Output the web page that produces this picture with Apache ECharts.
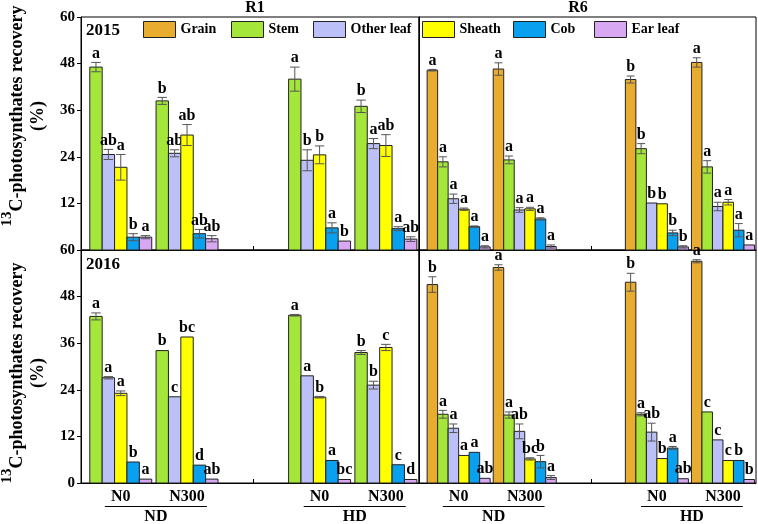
<!DOCTYPE html>
<html><head><meta charset="utf-8">
<script src="https://cdn.jsdelivr.net/npm/echarts@6/dist/echarts.min.js"></script>
<style>html,body{margin:0;padding:0;background:#fff}#c{width:758px;height:524px}</style>
</head><body><div id="c"></div>
<script>
// ---------- DATA ----------
const parts = ['Grain', 'Stem', 'Other leaf', 'Sheath', 'Cob', 'Ear leaf'];
const r1Parts = ['Stem', 'Other leaf', 'Sheath', 'Cob', 'Ear leaf'];
const r6Parts = ['Grain', 'Stem', 'Other leaf', 'Sheath', 'Cob', 'Ear leaf'];
const nLevels = ['N0', 'N300', 'N0', 'N300'];   // ND N0, ND N300, HD N0, HD N300
const densities = ['ND', 'HD'];
const yTicks = [0, 12, 24, 36, 48, 60];
const stages = ['R1', 'R6'];
const years = ['2015', '2016'];
const yTitleMain = 'C-photosynthates recovery';
const yTitleSup = '13';
const yTitleUnit = '(%)';

// R1 2015 (rows follow r1Parts)
const r1y15Mean = [[47.1, 38.4, 44.0, 37.0], [24.6, 24.9, 23.1, 27.4], [21.3, 29.6, 24.5, 26.9], [3.3, 4.2, 5.7, 5.5], [3.3, 2.9, 2.3, 2.8]];
const r1y15Err  = [[1.2, 0.9, 3.1, 1.6], [1.3, 0.9, 2.7, 1.3], [3.3, 2.7, 2.3, 2.8], [0.9, 1.1, 1.3, 0.5], [0.4, 0.8, 0.1, 0.6]];
const r1y15Let  = [['a', 'b', 'a', 'b'], ['ab', 'ab', 'b', 'a'], ['a', 'ab', 'b', 'ab'], ['b', 'ab', 'a', 'a'], ['a', 'ab', 'b', 'ab']];
// R6 2015 (rows follow r6Parts)
const r6y15Mean = [[46.3, 46.6, 43.9, 48.3], [22.7, 23.2, 26.1, 21.4], [13.2, 10.3, 12.1, 11.2], [10.5, 10.6, 11.9, 12.3], [6.0, 8.0, 4.4, 5.1], [0.8, 0.9, 0.8, 1.3]];
const r6y15Err  = [[0.2, 1.6, 0.9, 1.2], [1.3, 1.0, 1.3, 1.6], [1.2, 0.6, 0.1, 1.1], [0.3, 0.4, 0.1, 0.7], [0.2, 0.3, 0.7, 1.7], [0.3, 0.4, 0.3, 0.1]];
const r6y15Let  = [['a', 'a', 'b', 'a'], ['a', 'a', 'b', 'a'], ['a', 'a', 'b', 'a'], ['a', 'a', 'b', 'a'], ['a', 'a', 'b', 'a'], ['a', 'a', 'b', 'a']];
// R1 2016
const r1y16Mean = [[42.9, 34.1, 43.2, 33.6], [27.1, 22.2, 27.6, 25.2], [23.1, 37.6, 22.1, 34.9], [5.4, 4.6, 5.8, 4.7], [1.0, 1.0, 0.9, 0.9]];
const r1y16Err  = [[0.9, 0.1, 0.2, 0.5], [0.3, 0.1, 0.1, 1.0], [0.6, 0.1, 0.2, 0.8], [0.1, 0.1, 0.1, 0.1], [0.1, 0.1, 0.1, 0.1]];
const r1y16Let  = [['a', 'b', 'a', 'b'], ['a', 'c', 'a', 'b'], ['a', 'bc', 'b', 'c'], ['b', 'd', 'a', 'c'], ['a', 'ab', 'bc', 'd']];
// R6 2016
const r6y16Mean = [[51.1, 55.5, 51.7, 57.1], [17.7, 17.5, 17.7, 18.3], [14.1, 13.3, 13.1, 11.1], [7.1, 6.2, 6.3, 5.8], [7.9, 5.5, 9.0, 5.8], [1.2, 1.4, 1.1, 0.9]];
const r6y16Err  = [[2.0, 0.7, 2.3, 0.4], [1.0, 0.8, 0.4, 0.1], [1.1, 1.9, 2.3, 0.1], [0.1, 0.3, 0.1, 0.1], [0.1, 1.6, 0.4, 0.1], [0.1, 0.5, 0.1, 0.1]];
const r6y16Let  = [['b', 'a', 'b', 'a'], ['a', 'a', 'a', 'c'], ['a', 'ab', 'ab', 'c'], ['a', 'bc', 'b', 'c'], ['a', 'b', 'a', 'b'], ['ab', 'a', 'ab', 'b']];

// ---------- STYLE / LAYOUT ----------
const colors = {'Grain': '#E8AC2E', 'Stem': '#A5E63B', 'Other leaf': '#BCC0F8', 'Sheath': '#FFFF00', 'Cob': '#0AA0F0', 'Ear leaf': '#D8A9F2'};
const FONT = '"Liberation Serif", "Times New Roman", serif';
const groupX = [1, 2, 4, 5];
const X_MIN = 0.4, X_MAX = 5.5;
const bracketSpans = [[0.76, 2.3], [3.76, 5.3]];
const grids = [
  {left: 81, top: 17, width: 338, height: 233},
  {left: 419, top: 17, width: 337, height: 233},
  {left: 81, top: 250, width: 338, height: 233},
  {left: 419, top: 250, width: 337, height: 233}
];
const panels = [
  {grid: 0, parts: r1Parts, mean: r1y15Mean, err: r1y15Err, let: r1y15Let, barW: 0.187},
  {grid: 1, parts: r6Parts, mean: r6y15Mean, err: r6y15Err, let: r6y15Let, barW: 0.159},
  {grid: 2, parts: r1Parts, mean: r1y16Mean, err: r1y16Err, let: r1y16Let, barW: 0.187},
  {grid: 3, parts: r6Parts, mean: r6y16Mean, err: r6y16Err, let: r6y16Let, barW: 0.159}
];

const xAxes = grids.map((g, i) => ({
  type: 'value', gridIndex: i, min: X_MIN, max: X_MAX,
  splitLine: {show: false},
  axisLine: {show: true, onZero: false, lineStyle: {color: '#000', width: 1}},
  axisTick: {show: true, inside: true, length: 4, customValues: [3], lineStyle: {color: '#000'}},
  axisLabel: i >= 2 ? {
    show: true, customValues: groupX, margin: 6,
    formatter: v => nLevels[groupX.indexOf(Math.round(v))] || '',
    fontFamily: FONT, fontWeight: 'bold', fontSize: 16, color: '#000'
  } : {show: false}
}));

const yAxes = grids.map((g, i) => {
  const left = (i % 2 === 0);
  return {
    type: 'value', gridIndex: i, min: 0, max: 60, interval: 12,
    splitLine: {show: false},
    axisLine: {show: true, lineStyle: {color: '#000', width: 1}},
    axisTick: {show: left, length: 4, lineStyle: {color: '#000'}},
    axisLabel: {show: left, showMinLabel: i === 2, margin: 6, fontFamily: FONT, fontWeight: 'bold', fontSize: 15, color: '#000'}
  };
});

function makeBarRender(panel, partIdx) {
  const letters = panel.let[partIdx];
  const errs = panel.err[partIdx];
  const hw = panel.barW / 2;
  return function (params, api) {
    const x = api.value(0), y = api.value(1);
    const e = errs[params.dataIndex];
    const p0 = api.coord([x - hw, y]);
    const p1 = api.coord([x + hw, 0]);
    const w = p1[0] - p0[0];
    const children = [{
      type: 'rect',
      shape: {x: p0[0], y: p0[1], width: w, height: p1[1] - p0[1]},
      style: {fill: api.visual('color'), stroke: '#222', lineWidth: 1}
    }];
    const pt = api.coord([x, y + e]);
    const pb = api.coord([x, y - e]);
    const cx = (p0[0] + p1[0]) / 2;
    const cw = w * 0.38;
    if (e > 0.15) {
      children.push({type: 'line', shape: {x1: cx, y1: pt[1], x2: cx, y2: pb[1]}, style: {stroke: '#555', lineWidth: 1}});
      children.push({type: 'line', shape: {x1: cx - cw, y1: pt[1], x2: cx + cw, y2: pt[1]}, style: {stroke: '#555', lineWidth: 1}});
      children.push({type: 'line', shape: {x1: cx - cw, y1: pb[1], x2: cx + cw, y2: pb[1]}, style: {stroke: '#555', lineWidth: 1}});
    }
    children.push({
      type: 'text',
      style: {text: letters[params.dataIndex], x: cx, y: Math.min(pt[1], p0[1]) - 1, align: 'center', verticalAlign: 'bottom',
        font: 'bold 16px ' + FONT, fill: '#000'}
    });
    return {type: 'group', children: children};
  };
}

const series = [];
panels.forEach(panel => {
  const n = panel.parts.length;
  panel.parts.forEach((part, k) => {
    const off = (k - (n - 1) / 2) * panel.barW;
    series.push({
      type: 'custom', name: part, xAxisIndex: panel.grid, yAxisIndex: panel.grid,
      itemStyle: {color: colors[part]},
      clip: false, silent: true,
      data: groupX.map((gx, i) => [gx + off, panel.mean[k][i]]),
      renderItem: makeBarRender(panel, k),
      z: 2
    });
  });
});

// density brackets under bottom panels
[2, 3].forEach(gi => {
  series.push({
    type: 'custom', name: 'density-' + gi, xAxisIndex: gi, yAxisIndex: gi, clip: false, silent: true,
    data: bracketSpans.map((s, i) => [s[0], s[1], i]),
    renderItem: function (params, api) {
      const a = api.coord([api.value(0), 0]);
      const b = api.coord([api.value(1), 0]);
      const yl = a[1] + 23.5;
      return {type: 'group', children: [
        {type: 'line', shape: {x1: a[0], y1: yl, x2: b[0], y2: yl}, style: {stroke: '#000', lineWidth: 1}},
        {type: 'text', style: {text: densities[params.dataIndex], x: (a[0] + b[0]) / 2, y: yl + 2, align: 'center', verticalAlign: 'top',
          font: 'bold 16px ' + FONT, fill: '#000'}}
      ]};
    }
  });
});

const legendLefts = [143, 231, 313, 422, 513, 594];
const legends = parts.map((p, i) => ({
  data: [p], left: legendLefts[i], top: 21, padding: 0, selectedMode: false,
  itemWidth: 32, itemHeight: 16, icon: 'rect',
  itemStyle: {borderColor: '#222', borderWidth: 1},
  textStyle: {fontFamily: FONT, fontWeight: 'bold', fontSize: 14, color: '#000'}
}));

function yTitle(cy) {
  return [
    {type: 'text', x: 13, y: cy, rotation: Math.PI / 2,
      style: {text: '{sup|' + yTitleSup + '}{m|' + yTitleMain + '}', align: 'center', verticalAlign: 'middle',
        rich: {
          m: {fontFamily: FONT, fontWeight: 'bold', fontSize: 18, lineHeight: 26, verticalAlign: 'bottom', fill: '#000'},
          sup: {fontFamily: FONT, fontWeight: 'bold', fontSize: 15, lineHeight: 16, verticalAlign: 'top', fill: '#000'}
        }}},
    {type: 'text', x: 38.5, y: cy, rotation: Math.PI / 2,
      style: {text: yTitleUnit, align: 'center', verticalAlign: 'middle', font: 'bold 18px ' + FONT, fill: '#000'}}
  ];
}

const chart = echarts.init(document.getElementById('c'), null, {renderer: 'canvas'});
chart.setOption({
  animation: false,
  backgroundColor: '#fff',
  grid: grids.map(g => Object.assign({show: true, borderColor: '#000', borderWidth: 1, backgroundColor: 'transparent'}, g)),
  xAxis: xAxes,
  yAxis: yAxes,
  legend: legends,
  series: series,
  graphic: [
    {type: 'text', x: 255, y: 8, style: {text: stages[0], align: 'center', verticalAlign: 'middle', font: 'bold 16px ' + FONT, fill: '#000'}},
    {type: 'text', x: 578, y: 8, style: {text: stages[1], align: 'center', verticalAlign: 'middle', font: 'bold 16px ' + FONT, fill: '#000'}},
    {type: 'text', x: 86, y: 31, style: {text: years[0], align: 'left', verticalAlign: 'middle', font: 'bold 17px ' + FONT, fill: '#000'}},
    {type: 'text', x: 86, y: 265, style: {text: years[1], align: 'left', verticalAlign: 'middle', font: 'bold 17px ' + FONT, fill: '#000'}}
  ].concat(yTitle(116), yTitle(373))
});
</script></body></html>
